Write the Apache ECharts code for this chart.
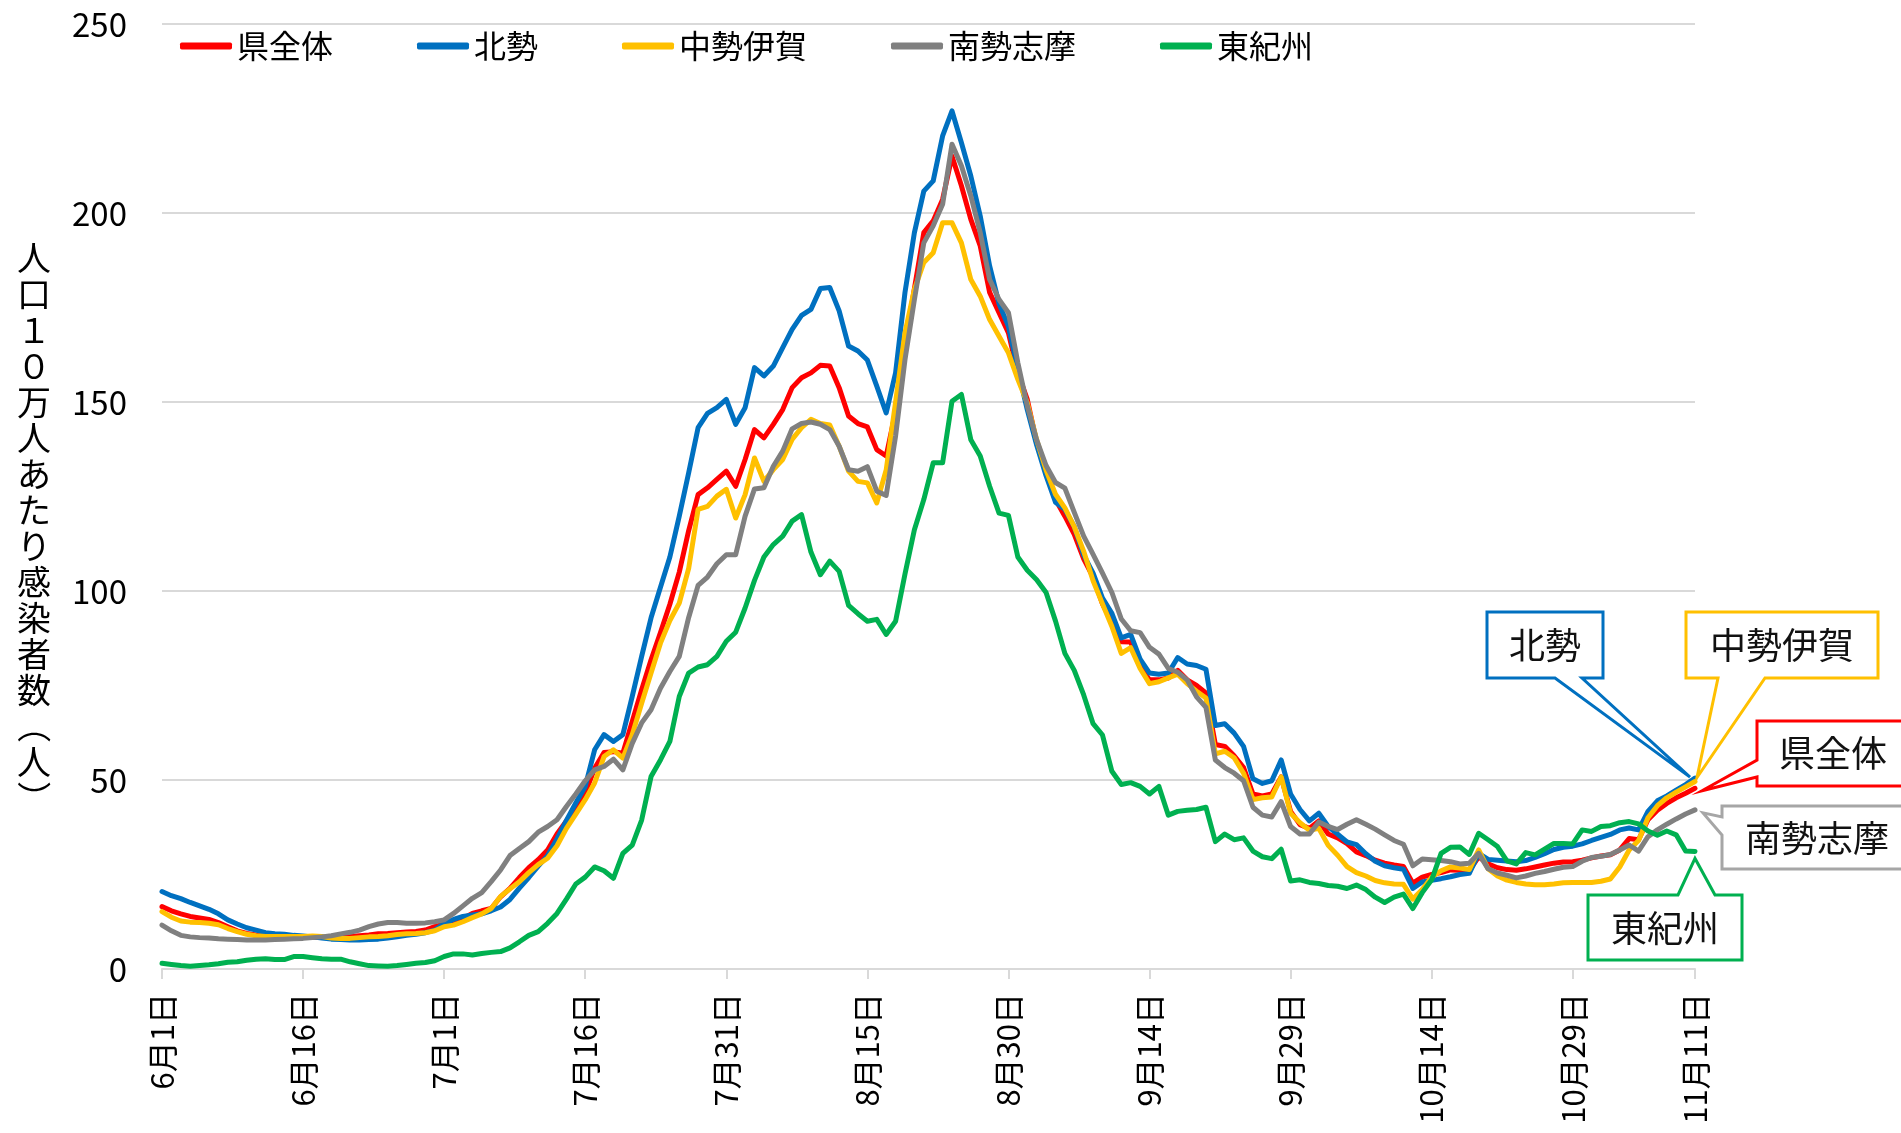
<!DOCTYPE html>
<html><head><meta charset="utf-8">
<script src="https://cdn.jsdelivr.net/npm/echarts@6/dist/echarts.min.js"></script>
<style>html,body{margin:0;padding:0;background:#fff}#c{width:1901px;height:1133px}</style>
</head><body><div id="c"></div>
<script>
const FONT = '"Noto Sans CJK JP", "Noto Sans", sans-serif';
const seriesNames = ['県全体', '北勢', '中勢伊賀', '南勢志摩', '東紀州'];
const seriesColors = ['#FF0000', '#0070C0', '#FFC000', '#808080', '#00B050'];
const calloutBorder = ['#FF0000', '#0070C0', '#FFC000', '#A6A6A6', '#00B050'];
const yAxisTitle = '人口１０万人あたり感染者数（人）';
const yTicks = { min: 0, max: 250, interval: 50 };
const firstDay = { month: 6, day: 1 };
const monthLengths = { 6: 30, 7: 31, 8: 31, 9: 30, 10: 31, 11: 30 };
const labelEvery = 15;

const kenzentai = [
16.5,15.4,14.6,13.9,13.5,13.1,12.3,11.2,10.1,9.4,
9.0,8.6,8.6,8.6,8.5,8.5,8.4,8.3,8.4,8.5,
8.6,8.8,9.0,9.3,9.4,9.6,9.8,9.9,10.3,11.2,
11.9,12.3,13.4,14.7,15.4,16.0,19.1,21.3,24.2,26.8,
28.9,31.5,35.7,39.2,42.8,46.5,53.1,57.3,57.5,57.1,
65.5,73.9,81.8,89.0,96.5,105.0,116.0,125.5,127.3,129.5,
131.7,127.7,134.8,142.7,140.5,144.1,148.0,153.8,156.4,157.7,
159.7,159.5,153.8,146.3,144.3,143.4,137.4,135.7,147.5,165.0,
180.0,194.8,197.9,203.6,215.0,207.2,198.3,191.3,179.0,173.6,
168.3,157.7,150.7,139.2,132.1,124.2,119.8,115.0,108.5,103.7,
96.6,91.6,86.6,86.5,80.0,76.5,76.5,77.0,79.0,76.5,
75.0,73.0,59.4,58.9,56.4,53.3,46.3,45.8,46.3,50.8,
41.7,38.2,37.2,39.2,35.7,34.7,33.2,31.0,30.0,28.8,
28.0,27.5,27.1,22.7,24.3,25.0,25.5,26.2,26.1,26.0,
29.7,27.8,26.8,26.3,26.1,26.5,27.0,27.5,28.0,28.3,
28.4,28.8,29.4,29.9,30.2,31.5,34.5,34.2,39.5,42.0,
43.8,45.3,46.5,47.8];

const hokusei = [
20.5,19.4,18.6,17.6,16.7,15.8,14.6,13.0,11.9,10.9,
10.3,9.6,9.3,9.2,8.9,8.7,8.5,8.2,7.9,7.8,
7.7,7.7,7.8,7.9,8.2,8.5,8.9,9.2,9.6,10.3,
12.0,13.1,13.9,14.3,14.6,15.4,16.4,18.4,21.4,24.2,
27.2,30.0,34.4,39.3,43.9,48.3,58.0,62.0,60.2,62.0,
72.1,82.7,92.9,101.0,109.0,119.8,131.3,143.2,147.0,148.5,
150.7,144.1,148.5,159.1,156.9,159.5,164.4,169.2,172.9,174.5,
180.0,180.3,174.1,164.8,163.5,161.1,154.2,147.1,157.7,179.0,
194.8,205.8,208.5,220.4,227.0,218.6,209.8,199.2,186.0,176.0,
170.0,158.6,148.0,138.6,130.5,123.5,121.6,117.0,109.5,104.7,
98.1,94.1,87.6,88.5,82.0,78.3,78.0,78.3,82.4,80.7,
80.3,79.3,64.4,64.9,62.4,58.9,50.3,49.1,49.8,55.3,
46.3,42.2,39.2,41.2,37.7,35.7,33.6,32.9,30.5,28.5,
27.3,26.8,26.4,21.3,23.0,23.5,23.9,24.4,25.0,25.3,
30.6,29.0,28.8,28.6,28.4,28.7,29.5,30.5,31.6,32.2,
32.5,33.1,34.0,34.8,35.6,36.8,37.3,36.8,41.7,44.5,
45.8,47.3,48.8,50.5];

const chuseiIga = [
15.2,13.7,12.7,12.4,12.3,12.1,11.7,10.7,9.9,9.2,
8.8,8.6,8.6,8.6,8.6,8.6,8.7,8.6,8.2,8.1,
8.1,8.3,8.5,8.6,8.8,9.1,9.3,9.4,9.6,10.1,
11.2,11.6,12.5,13.6,14.6,16.0,19.2,21.2,23.1,25.5,
27.6,29.3,32.6,37.2,41.0,44.8,49.2,56.2,58.0,55.8,
62.0,70.3,78.3,86.2,92.2,96.8,106.0,121.6,122.4,125.1,
126.9,119.3,125.5,135.2,129.0,132.1,134.8,140.1,143.2,145.4,
144.3,143.9,138.3,131.7,129.0,128.6,123.3,132.0,150.0,168.3,
179.8,186.9,189.5,197.4,197.4,192.1,182.4,178.0,171.8,167.4,
163.0,156.0,149.8,140.0,132.0,125.6,122.0,117.0,110.5,102.7,
96.6,90.6,83.5,85.0,79.5,75.5,76.0,77.0,78.0,75.5,
73.5,71.7,56.9,57.6,55.9,51.8,44.8,45.3,45.5,50.8,
41.2,38.7,36.7,37.2,32.7,30.1,27.1,25.5,24.6,23.4,
22.8,22.5,22.4,18.5,21.0,24.3,26.0,27.0,26.7,26.3,
31.5,26.5,24.6,23.5,22.9,22.5,22.3,22.3,22.5,22.8,
22.9,22.9,22.9,23.2,23.8,27.0,31.5,34.0,40.0,43.2,
45.3,46.8,48.2,49.6];

const nanseiShima = [
11.6,10.1,8.9,8.5,8.3,8.2,8.0,7.9,7.8,7.7,
7.7,7.7,7.8,7.9,8.0,8.1,8.3,8.5,8.8,9.3,
9.7,10.3,11.2,11.9,12.3,12.3,12.1,12.1,12.2,12.5,
13.0,14.7,16.7,18.7,20.2,23.1,26.2,30.0,31.9,33.7,
36.2,37.7,39.5,43.0,46.3,49.8,52.7,53.6,55.5,52.7,
59.7,65.1,68.6,74.3,78.7,82.7,93.0,101.5,103.7,107.2,
109.6,109.6,119.8,127.0,127.3,133.0,137.0,142.9,144.3,144.7,
144.1,142.7,138.3,132.1,131.7,132.9,126.4,125.3,141.0,161.2,
177.1,192.1,196.6,202.3,218.2,212.5,204.5,194.8,182.4,177.1,
173.6,160.4,149.0,140.0,133.2,128.7,127.2,120.8,114.5,109.7,
104.7,99.6,92.6,89.5,89.0,85.1,83.3,79.5,78.5,76.5,
72.0,69.2,55.3,53.3,51.8,49.8,42.8,40.7,40.2,44.3,
37.7,35.7,35.7,38.9,37.7,36.9,38.3,39.5,38.3,37.0,
35.5,34.0,33.0,27.3,29.1,28.9,28.7,28.4,27.8,28.0,
30.6,26.5,25.4,24.8,24.1,24.6,25.3,25.8,26.4,26.9,
27.1,28.5,29.5,29.8,30.3,31.5,32.8,31.2,35.0,36.8,
38.3,39.7,41.0,42.1];

const higashiKishu = [
1.5,1.2,0.9,0.7,0.9,1.1,1.4,1.8,1.9,2.3,
2.6,2.7,2.5,2.5,3.3,3.3,3.0,2.7,2.6,2.6,
1.9,1.4,0.9,0.8,0.7,0.9,1.2,1.5,1.7,2.2,
3.3,4.0,4.0,3.7,4.1,4.4,4.6,5.6,7.2,8.9,
9.9,12.1,14.7,18.5,22.5,24.3,27.0,26.0,24.0,30.6,
32.8,39.4,50.9,55.3,60.2,72.1,78.3,79.9,80.5,82.7,
86.7,89.1,95.5,102.8,109.0,112.3,114.5,118.5,120.2,110.3,
104.3,107.9,105.2,96.2,94.0,92.0,92.5,88.5,92.0,104.5,
116.2,124.2,133.9,133.9,150.2,152.0,140.0,135.7,127.7,120.6,
120.0,109.0,105.5,103.0,99.6,92.1,83.5,79.0,72.5,64.9,
61.9,52.3,48.8,49.3,48.3,46.3,48.3,40.7,41.7,42.0,
42.2,42.8,33.7,35.7,34.2,34.7,31.2,29.7,29.2,31.7,
23.3,23.6,22.9,22.6,22.1,21.9,21.3,22.2,21.0,19.0,
17.6,19.0,19.8,16.0,20.2,23.6,30.6,32.2,32.3,30.3,
35.9,34.2,32.4,28.6,27.8,30.8,30.2,31.7,33.2,33.2,
33.1,36.8,36.4,37.7,37.9,38.7,39.0,38.4,36.5,35.4,
36.5,35.5,31.2,31.1];

const allSeries = [kenzentai, hokusei, chuseiIga, nanseiShima, higashiKishu];

// date categories 6月1日 ...
const categories = [];
(function () {
  let m = firstDay.month, d = firstDay.day;
  for (let k = 0; k < kenzentai.length; k++) {
    categories.push(m + '月' + d + '日');
    d++;
    if (d > monthLengths[m]) { m++; d = 1; }
  }
})();
const lastIdx = categories.length - 1;
const showTick = (idx) => idx % labelEvery === 0 || idx === lastIdx;

const chart = echarts.init(document.getElementById('c'), null, { renderer: 'canvas' });

const option = {
  animation: false,
  backgroundColor: '#ffffff',
  textStyle: { fontFamily: FONT },
  grid: { left: 162, right: 206, top: 24, bottom: 164, containLabel: false },
  legend: {
    data: seriesNames,
    left: 175,
    top: 25,
    icon: 'roundRect',
    itemWidth: 52,
    itemHeight: 7,
    itemGap: 84,
    textStyle: { fontSize: 32, color: '#000', fontFamily: FONT, lineHeight: 32 }
  },
  xAxis: {
    type: 'category',
    data: categories,
    boundaryGap: false,
    axisLine: { lineStyle: { color: '#D9D9D9', width: 2 } },
    axisTick: { show: true, interval: showTick, length: 10, lineStyle: { color: '#D9D9D9', width: 2 } },
    axisLabel: { interval: showTick, rotate: 90, fontSize: 31, color: '#000', fontFamily: FONT, margin: 24 },
    splitLine: { show: false }
  },
  yAxis: {
    type: 'value',
    min: yTicks.min, max: yTicks.max, interval: yTicks.interval,
    axisLine: { show: false },
    axisTick: { show: false },
    axisLabel: { fontSize: 33, color: '#000', fontFamily: FONT, margin: 35 },
    splitLine: { lineStyle: { color: '#D9D9D9', width: 2 } }
  },
  series: seriesNames.map((name, k) => ({
    name: name,
    type: 'line',
    data: allSeries[k],
    symbol: 'none',
    showSymbol: false,
    smooth: false,
    lineStyle: { width: 5, color: seriesColors[k], join: 'round', cap: 'round' },
    itemStyle: { color: seriesColors[k] },
    emphasis: { disabled: true }
  }))
};
chart.setOption(option);

// annotations
const graphics = [];
// vertical y-axis title
const titleChars = Array.from(yAxisTitle);
titleChars.forEach((ch, k) => {
  const rot = (ch === '（' || ch === '）') ? -Math.PI / 2 : 0;
  graphics.push({
    type: 'text', x: 34, y: 258 + k * 36, rotation: rot,
    style: { text: ch, x: 0, y: 0, align: 'center', verticalAlign: 'middle', fill: '#000', font: '34px ' + FONT }
  });
});

function endPx(k) {
  return chart.convertToPixel({ seriesIndex: k }, [lastIdx, allSeries[k][lastIdx]]);
}
function add(v, dx, dy) { return [v[0] + dx, v[1] + dy]; }

const callouts = [];
{ // 北勢 (pointer from bottom)
  const b = { x1: 1487, y1: 612, x2: 1603, y2: 678 };
  const tip = add(endPx(1), -5, -1);
  callouts.push({ k: 1, pts: [[b.x1, b.y1], [b.x2, b.y1], [b.x2, b.y2], [1582, b.y2], tip, [1555, b.y2], [b.x1, b.y2]], tx: 1545, ty: 645 });
}
{ // 中勢伊賀
  const b = { x1: 1686, y1: 612, x2: 1878, y2: 678 };
  const tip = add(endPx(2), 2, -4);
  callouts.push({ k: 2, pts: [[b.x1, b.y1], [b.x2, b.y1], [b.x2, b.y2], [1765, b.y2], tip, [1718, b.y2], [b.x1, b.y2]], tx: 1782, ty: 645 });
}
{ // 県全体 (pointer from left)
  const b = { x1: 1757, y1: 721, x2: 1912, y2: 786 };
  const tip = add(endPx(0), 7, 2.5);
  callouts.push({ k: 0, pts: [[b.x1, b.y1], [b.x2, b.y1], [b.x2, b.y2], [b.x1, b.y2], [b.x1, 777], tip, [b.x1, 760]], tx: 1833, ty: 753 });
}
{ // 南勢志摩
  const b = { x1: 1722, y1: 806, x2: 1912, y2: 869 };
  const tip = add(endPx(3), 8, 3);
  callouts.push({ k: 3, pts: [[b.x1, b.y1], [b.x2, b.y1], [b.x2, b.y2], [b.x1, b.y2], [b.x1, 835], tip, [b.x1, 817]], tx: 1817, ty: 838 });
}
{ // 東紀州 (pointer from top)
  const b = { x1: 1588, y1: 895, x2: 1742, y2: 960 };
  const tip = add(endPx(4), 0, 7);
  callouts.push({ k: 4, pts: [[b.x1, b.y1], [1678, b.y1], tip, [1715, b.y1], [b.x2, b.y1], [b.x2, b.y2], [b.x1, b.y2]], tx: 1665, ty: 928 });
}
callouts.forEach(c => {
  graphics.push({
    type: 'polygon', z: 100,
    shape: { points: c.pts },
    style: { fill: '#ffffff', stroke: calloutBorder[c.k], lineWidth: 3, lineJoin: 'miter' }
  });
  graphics.push({
    type: 'text', z: 101, x: c.tx, y: c.ty,
    style: { text: seriesNames[c.k], x: 0, y: 0, align: 'center', verticalAlign: 'middle', fill: '#111', font: '36px ' + FONT }
  });
});

chart.setOption({ graphic: graphics });
</script>
</body></html>
